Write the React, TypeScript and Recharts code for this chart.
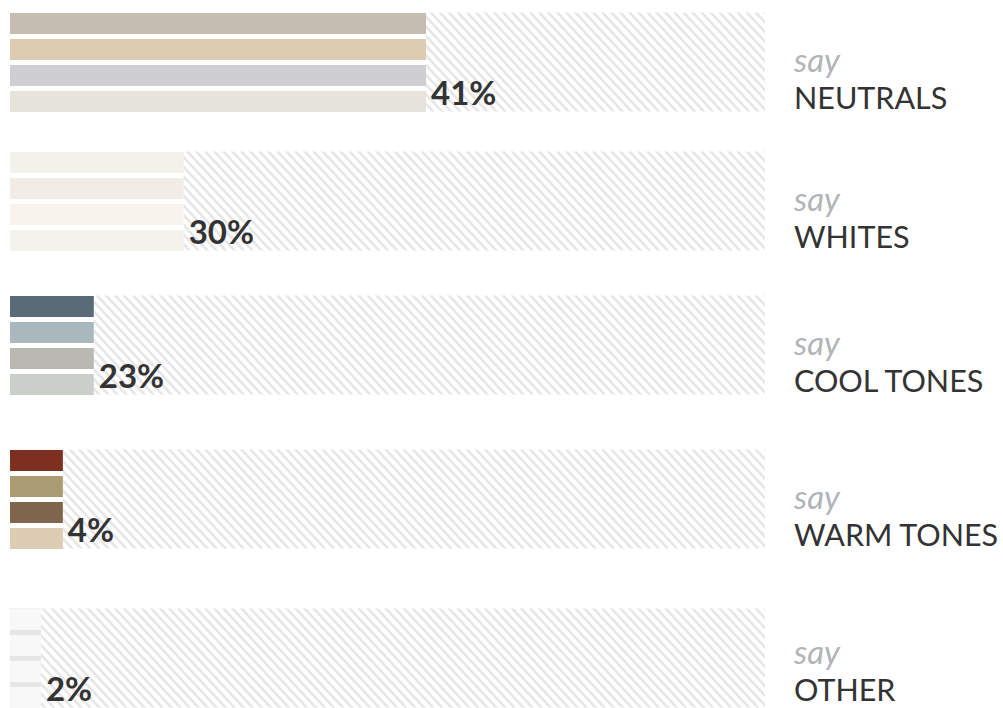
import React from 'react';
import { BarChart, Bar, XAxis, YAxis, Cell, ReferenceArea } from 'recharts';

const categories = ['NEUTRALS', 'WHITES', 'COOL TONES', 'WARM TONES', 'OTHER'];
const percentLabels = ['41%', '30%', '23%', '4%', '2%'];
const barLengths = [55.1, 23.0, 11.1, 7.0, 4.1];
const swatchIds = ['s1', 's2', 's3', 's4'];
const swatchColors = [
  ['#c6bdb2', '#ddccb1', '#cfced2', '#e6e3db'],
  ['#f2f1ea', '#f1ede6', '#f8f4ed', '#f3f2ed'],
  ['#5a6b78', '#a9b8bd', '#b9b8b3', '#cbcfca'],
  ['#7d3020', '#ab9b73', '#80654d', '#ddcdb4'],
  ['#f8f8f8', '#f8f8f8', '#f8f8f8', '#f8f8f8'],
];
const backdropColors = [null, null, null, null, '#e6e6e6'];

const groupTops = [12, 151, 295, 449, 608];
const BAND = 26;
const BAR = 21;
const INSET = (BAND - BAR) / 2;
const FONT = 'Lato, "Noto Sans", sans-serif';
const TEXT_SIZE = 30.5;
const SAY_SIZE = 33;
const PAGE_H = 708;

function baselineOffset(fs: number, lh: number) {
  return (lh - 1.2 * fs) / 2 + 0.987 * fs;
}

function insetShape(fill: string) {
  return (props: any) => (
    <rect
      x={props.x}
      y={props.y + INSET}
      width={props.width}
      height={props.height - 2 * INSET}
      fill={fill}
    />
  );
}

function Group({ g }: { g: number }) {
  const data = swatchIds.map((id, i) => ({ id, value: barLengths[g], color: swatchColors[g][i] }));
  const pid = `hatch-${g}`;
  const top = groupTops[g];
  const bottom = top + 99;
  const backdrop = backdropColors[g];
  const LH = 28;
  const labelBase = Math.min(bottom - 2.5, PAGE_H - 7);
  return (
    <>
      <div style={{ position: 'absolute', left: 0, top: top - INSET }}>
        <BarChart
          width={770}
          height={BAND * 4}
          data={data}
          layout="vertical"
          margin={{ top: 0, right: 5, bottom: 0, left: 10 }}
        >
          <defs>
            <pattern id={pid} patternUnits="userSpaceOnUse" width="6.6" height="6.6" patternTransform="rotate(-43)">
              <rect x="0" y="0" width="6.6" height="6.6" fill="#ffffff" />
              <line x1="3.3" y1="-1" x2="3.3" y2="8" stroke="#e4e4e4" strokeWidth="2.4" />
            </pattern>
          </defs>
          <XAxis type="number" domain={[0, 100]} hide />
          <YAxis type="category" dataKey="id" hide />
          <ReferenceArea
            x1={barLengths[g]}
            x2={100}
            shape={insetShape(`url(#${pid})`)}
          />
          {backdrop && (
            <ReferenceArea x1={0} x2={barLengths[g]} shape={insetShape(backdrop)} zIndex={-10} />
          )}
          <Bar
            dataKey="value"
            barSize={BAR}
            isAnimationActive={false}
            label={(p: any) =>
              p.index === 3 ? (
                <text
                  x={p.x + p.width + 5}
                  y={p.y + p.height - 7}
                  fill="#333333"
                  fontFamily={FONT}
                  fontWeight={700}
                  fontSize={33}
                >
                  {percentLabels[g]}
                </text>
              ) : (
                <g />
              )
            }
          >
            {data.map((d) => (
              <Cell key={d.id} fill={d.color} />
            ))}
          </Bar>
        </BarChart>
      </div>
      <div
        style={{
          position: 'absolute',
          left: 794,
          top: labelBase - 37 - baselineOffset(SAY_SIZE, LH),
          fontFamily: FONT,
          fontSize: SAY_SIZE,
          lineHeight: `${LH}px`,
          whiteSpace: 'nowrap',
          color: '#b1b4b9',
          fontStyle: 'italic',
        }}
      >
        say
      </div>
      <div
        style={{
          position: 'absolute',
          left: 794,
          top: labelBase - baselineOffset(TEXT_SIZE, LH),
          fontFamily: FONT,
          fontSize: TEXT_SIZE,
          lineHeight: `${LH}px`,
          whiteSpace: 'nowrap',
          color: '#333333',
        }}
      >
        {categories[g]}
      </div>
    </>
  );
}

export default function App() {
  return (
    <div style={{ position: 'absolute', left: 0, top: 0, width: 1003, height: 708, background: '#ffffff', overflow: 'hidden' }}>
      {categories.map((_, g) => (
        <Group key={g} g={g} />
      ))}
    </div>
  );
}
